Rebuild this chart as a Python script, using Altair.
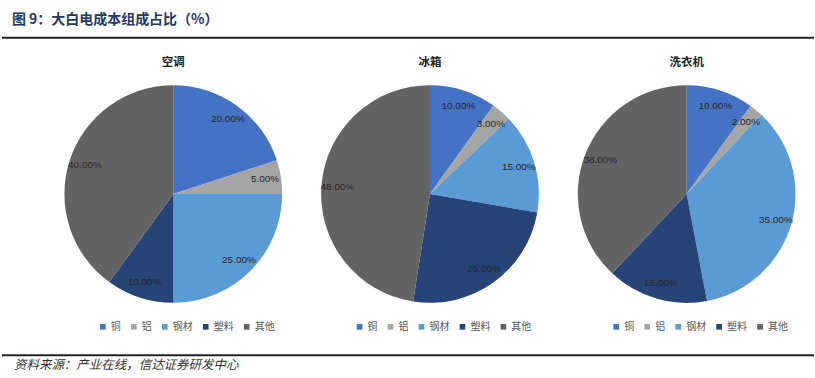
import altair as alt
import pandas as pd

components = ["铜", "铝", "钢材", "塑料", "其他"]
colors = ["#4472C4", "#A5A5A5", "#5B9BD5", "#264478", "#636363"]
panels = ["空调", "冰箱", "洗衣机"]
ac_values = [20, 5, 25, 10, 40]
fridge_values = [10, 3, 15, 25, 48]
washer_values = [10, 2, 35, 15, 38]
title_text = ["图 9：大白电成本组成占比（%）"]
source_text = ["资料来源：产业在线，信达证券研发中心"]

FONT = "Noto Sans CJK SC"
PW, PH = 257, 308
R = 109


def pie(name, values):
    df = pd.DataFrame({"component": components, "value": values,
                       "idx": list(range(len(components)))})
    base = alt.Chart(df).transform_calculate(
        label="format(datum.value, '.2f') + '%'"
    ).encode(
        theta=alt.Theta("value:Q", stack=True),
        order=alt.Order("idx:Q"),
    )
    arcs = base.mark_arc(outerRadius=R).encode(
        color=alt.Color(
            "component:N",
            scale=alt.Scale(domain=components, range=colors),
            sort=components,
            legend=alt.Legend(
                title=None, orient="none", direction="horizontal",
                legendX=53, legendY=282, symbolType="square", symbolSize=32,
                symbolStrokeWidth=0, labelFont=FONT, labelFontSize=10,
                labelColor="#595959", columnPadding=8, labelOffset=3,
            ),
        )
    )
    labels = base.mark_text(radius=93, font="Liberation Sans", fontSize=10,
                            color="#262626").encode(text="label:N")
    sub = alt.Chart(pd.DataFrame({"panel": [name]})).mark_text(
        font=FONT, fontSize=11.5, fontWeight="bold", color="#222222",
        align="center", baseline="middle",
    ).encode(x=alt.value(PW / 2), y=alt.value(23), text="panel:N")
    return alt.layer(arcs, labels, sub).properties(width=PW, height=PH)


spacer = alt.Chart(pd.DataFrame({"a": [""]})).mark_text(
    baseline="middle", align="center"
).encode(
    text="a:N", x=alt.value(22), y=alt.value(PH / 2)
).properties(width=45, height=PH)

row = alt.hconcat(
    spacer,
    pie(panels[0], ac_values),
    pie(panels[1], fridge_values),
    pie(panels[2], washer_values),
    spacing=0,
).resolve_scale(color="independent")

header_text = alt.Chart(pd.DataFrame({"t": title_text})).mark_text(
    font=FONT, fontSize=14, fontWeight="bold", color="#1F3864",
    align="left", baseline="middle",
).encode(x=alt.value(12), y=alt.value(20), text="t:N")
header_rule = alt.Chart(pd.DataFrame({"t": title_text})).mark_rule(
    color="#222222", strokeWidth=2
).encode(x=alt.value(2), x2=alt.value(815), y=alt.value(37.5))
header = alt.layer(header_rule, header_text).properties(width=815, height=40)

footer_text = alt.Chart(pd.DataFrame({"t": source_text})).mark_text(
    font=FONT, fontSize=12.5, fontStyle="italic", color="#333333",
    align="left", baseline="middle",
).encode(x=alt.value(14), y=alt.value(17), text="t:N")
footer_rule = alt.Chart(pd.DataFrame({"t": source_text})).mark_rule(
    color="#222222", strokeWidth=2
).encode(x=alt.value(2), x2=alt.value(815), y=alt.value(7.5))
footer = alt.layer(footer_rule, footer_text).properties(width=815, height=30)

chart = alt.vconcat(header, row, footer, spacing=0).resolve_scale(
    color="independent"
).configure(
    padding=0, background="white"
).configure_view(stroke=None)

chart.save("out.html", embed_options={"renderer": "svg", "actions": False})
